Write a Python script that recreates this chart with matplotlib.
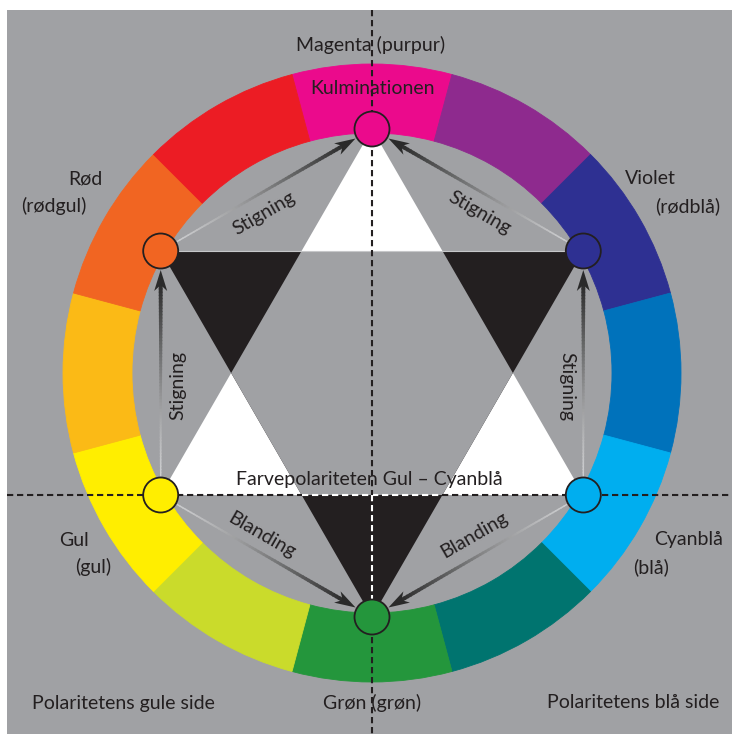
import numpy as np
import matplotlib
matplotlib.use("Agg")
import matplotlib.pyplot as plt
from matplotlib.patches import Polygon, Circle, Rectangle
from matplotlib.collections import PolyCollection
from matplotlib.colors import to_rgb

# ---------------- data ----------------
segment_names = ["Magenta", "Purpur", "Violet", "Blå", "Cyanblå", "Blågrøn",
                 "Grøn", "Gulgrøn", "Gul", "Orangegul", "Orange", "Rød"]
segment_values = [1] * 12
segment_colors = ["#EB0A8C", "#8E2A8E", "#2E3092", "#0072BB", "#00AEEF", "#00746F",
                  "#24963C", "#CADB2B", "#FFEE00", "#FBBA16", "#F16522", "#EC1C24"]

node_names = ["Magenta", "Violet", "Cyanblå", "Grøn", "Gul", "Rød"]
node_angles = [90, 30, -30, -90, -150, 150]
node_colors = ["#EB0A8C", "#2E3092", "#00AEEF", "#24963C", "#FFEE00", "#F16522"]

arrow_pairs = [("Rød", "Magenta"), ("Violet", "Magenta"), ("Gul", "Rød"),
               ("Cyanblå", "Violet"), ("Gul", "Grøn"), ("Cyanblå", "Grøn")]

label_texts = ["Magenta (purpur)", "Kulminationen", "Rød", "(rødgul)", "Violet", "(rødblå)",
               "Gul", "(gul)", "Cyanblå", "(blå)", "Farvepolariteten Gul – Cyanblå",
               "Polaritetens gule side", "Grøn (grøn)", "Polaritetens blå side"]
arrow_texts = ["Stigning", "Stigning", "Stigning", "Stigning", "Blanding", "Blanding"]

# ---------------- layout ----------------
W, H = 732, 734
CX, CY = 372, H - 373
R_OUT, R_IN = 309, 240
R_NODE = 244
NODE_R = 17.5
BG = "#A0A1A4"
INK = "#231F20"

label_pos = [(371, 45), (372, 89), (85, 179), (54, 206), (650, 179), (688, 206),
             (74, 540), (93, 567), (689, 540), (651, 567), (369, 479),
             (123, 703), (372, 703), (633, 703)]
arrow_text_pos = [(264, 213, 30), (479, 213, -30), (178, 386, 90), (567, 386, -90),
                  (262, 535, -30), (474, 535, 30)]

plt.rcParams['font.family'] = ['Lato', 'DejaVu Sans']

fig = plt.figure(figsize=(W / 100, H / 100), dpi=100, facecolor="white")
ax = fig.add_axes([0, 0, 1, 1])

# gray background
ax.add_patch(Rectangle((7, 0), W - 7, H - 10, facecolor=BG, edgecolor="none", zorder=0))

# colour ring
wedges, _ = ax.pie(segment_values, colors=segment_colors, startangle=105, counterclock=False,
                   radius=R_OUT, center=(CX, CY), frame=False,
                   wedgeprops=dict(width=R_OUT - R_IN, linewidth=0.6))
for w, c in zip(wedges, segment_colors):
    w.set_edgecolor(c)
    w.set_zorder(1)


def node_xy(angle):
    a = np.deg2rad(angle)
    return np.array([CX + R_NODE * np.cos(a), CY + R_NODE * np.sin(a)])


pos = {n: node_xy(a) for n, a in zip(node_names, node_angles)}

# hexagram
up_tri = [node_xy(90), node_xy(210), node_xy(330)]
down_tri = [node_xy(270), node_xy(150), node_xy(30)]
ax.add_patch(Polygon(up_tri, closed=True, facecolor="white", edgecolor="none", zorder=2))
ax.add_patch(Polygon(down_tri, closed=True, facecolor=INK, edgecolor="none", zorder=2))
r_hex = R_NODE / np.sqrt(3)
hexagon = [(CX + r_hex * np.cos(np.deg2rad(a)), CY + r_hex * np.sin(np.deg2rad(a)))
           for a in range(0, 360, 60)]
ax.add_patch(Polygon(hexagon, closed=True, facecolor=BG, edgecolor="none", zorder=3))
# faint light line along the top chord
ax.plot([pos["Rød"][0], pos["Violet"][0]], [pos["Rød"][1], pos["Violet"][1]],
        color="#C6C7C9", lw=0.8, zorder=3.5)

# dashed axes
dash = dict(lw=1.5, dashes=(3, 1.8), zorder=4)
y_h = pos["Gul"][1]
hx_l = CX - r_hex / 2
hx_r = CX + r_hex / 2
ax.plot([7, hx_l], [y_h, y_h], color=INK, **dash)
ax.plot([hx_r, W], [y_h, y_h], color=INK, **dash)
ax.plot([hx_l, hx_r], [y_h, y_h], color="white", **dash)
ax.plot([CX, CX], [H - 10, y_h], color=INK, **dash)
ax.plot([CX, CX], [y_h, pos["Grøn"][1]], color="white", **dash)
ax.plot([CX, CX], [pos["Grøn"][1], 0], color=INK, **dash)


# gradient arrows
def grad_arrow(p0, p1):
    d = p1 - p0
    L = np.hypot(*d)
    u = d / L
    n = np.array([-u[1], u[0]])
    tip = p1 - u * (NODE_R + 1.5)
    head_len, head_w = 19, 6.5
    base = tip - u * head_len
    tail = p0 + u * (NODE_R + 1)
    end = base + u * 6
    N = 60
    ts = np.linspace(0, 1, N + 1)
    seg_len = np.hypot(*(end - tail)) / N
    c0 = np.array(to_rgb("#CDCED0"))
    c1 = np.array(to_rgb("#2A2A2A"))
    quads, cols = [], []
    for i in range(N):
        t0, t1 = ts[i], ts[i + 1]
        a = tail + t0 * (end - tail)
        b = tail + t1 * (end - tail) + u * min(1.0, seg_len)
        w0 = 0.7 + 1.3 * t0
        w1 = 0.7 + 1.3 * t1
        quads.append([a + n * w0, b + n * w1, b - n * w1, a - n * w0])
        tm = (t0 + t1) / 2
        cols.append(tuple(c0 + (tm ** 1.2) * (c1 - c0)))
    ax.add_collection(PolyCollection(quads, facecolors=cols, edgecolors="none",
                                     antialiased=True, zorder=5))
    head = [tip, base + n * head_w - u * 2, base + u * 4, base - n * head_w - u * 2]
    ax.add_patch(Polygon(head, closed=True, facecolor="#2A2A2A", edgecolor="none", zorder=5.5))


for a, b in arrow_pairs:
    grad_arrow(pos[a], pos[b])

# nodes
for n, c in zip(node_names, node_colors):
    ax.add_patch(Circle(pos[n], NODE_R, facecolor=c, edgecolor=INK, lw=1.3, zorder=6))

# labels
FS = 14
for t, (x, y) in zip(label_texts, label_pos):
    ax.text(x, H - y, t, ha="center", va="center", fontsize=FS, color=INK, zorder=7)
for t, (x, y, r) in zip(arrow_texts, arrow_text_pos):
    ax.text(x, H - y, t, ha="center", va="center", fontsize=FS, color=INK,
            rotation=r, rotation_mode="anchor", zorder=7)

ax.set_xlim(0, W)
ax.set_ylim(0, H)
ax.set_aspect("equal")
ax.axis("off")
fig.savefig("out.png", dpi=100, facecolor="white")
